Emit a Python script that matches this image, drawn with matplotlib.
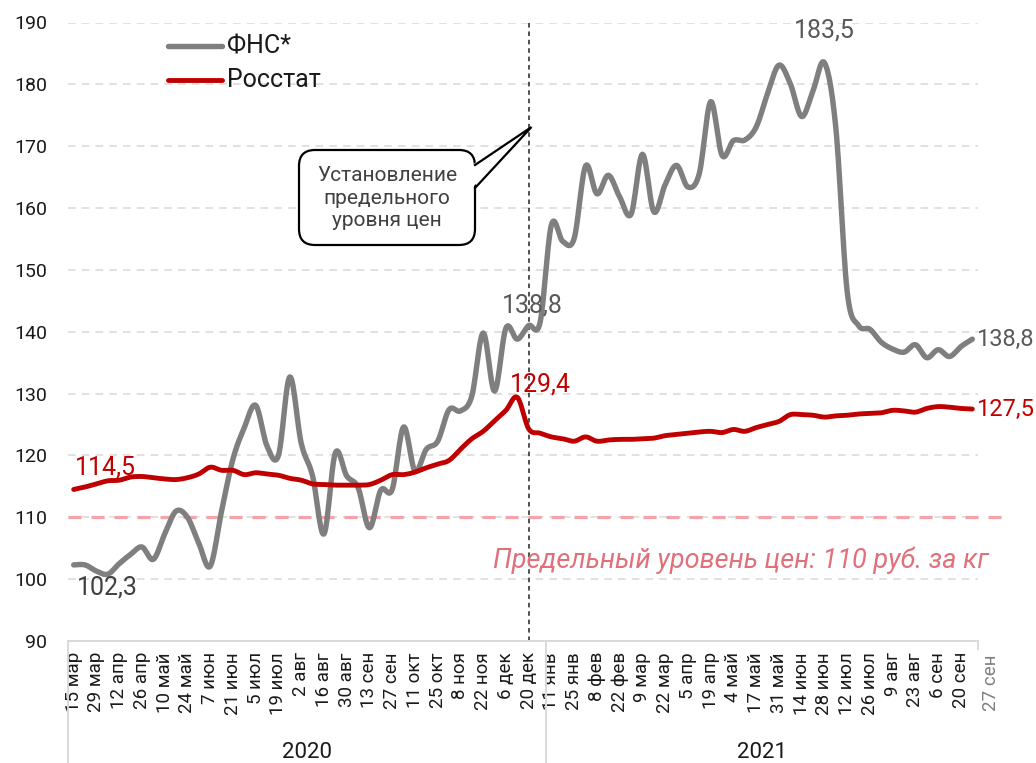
import matplotlib
matplotlib.use("Agg")
import matplotlib.pyplot as plt
import numpy as np
from matplotlib.patches import FancyBboxPatch, Polygon
from matplotlib.lines import Line2D

plt.rcParams['font.family'] = ['Roboto', 'DejaVu Sans']

# ---------------- data ----------------
fns = [102.3, 102.3, 101.3, 100.8, 102.5, 104.0, 105.2, 103.2, 107.3, 111.0,
       110.0, 105.8, 102.1, 111.0, 119.4, 124.5, 128.1, 121.5, 120.0, 132.7,
       122.0, 116.7, 107.3, 120.4, 116.7, 114.8, 108.3, 114.4, 114.5, 124.6,
       117.5, 121.0, 122.3, 127.4, 127.2, 129.6, 139.8, 130.4, 140.6, 138.8,
       141.0, 141.5, 157.3, 154.6, 155.1, 166.8, 162.3, 165.3, 161.8, 159.0,
       168.7, 159.4, 163.8, 166.9, 163.4, 165.6, 177.2, 168.5, 170.9, 171.0,
       173.1, 178.5, 183.1, 180.1, 174.8, 179.0, 183.5, 173.0, 146.5, 141.0,
       140.4, 138.3, 137.2, 136.7, 137.9, 135.8, 137.1, 136.0, 137.6, 138.8]
rosstat = [114.5, 114.9, 115.4, 115.9, 116.0, 116.5, 116.6, 116.4, 116.2, 116.1,
           116.4, 117.0, 118.1, 117.6, 117.6, 116.9, 117.2, 117.0, 116.8, 116.3,
           116.0, 115.4, 115.3, 115.2, 115.2, 115.2, 115.3, 116.0, 116.9, 116.9,
           117.3, 118.0, 118.6, 119.2, 121.0, 122.7, 123.9, 125.6, 127.3, 129.4,
           124.3, 123.6, 123.0, 122.7, 122.3, 123.0, 122.3, 122.5, 122.6, 122.6,
           122.7, 122.8, 123.2, 123.4, 123.6, 123.8, 123.9, 123.7, 124.2, 123.9,
           124.5, 125.0, 125.5, 126.6, 126.6, 126.5, 126.2, 126.4, 126.5, 126.7,
           126.8, 126.9, 127.3, 127.2, 127.0, 127.6, 127.9, 127.8, 127.6, 127.5]
labels_2020 = ['15 мар', '29 мар', '12 апр', '26 апр', '10 май', '24 май', '7 июн',
               '21 июн', '5 июл', '19 июл', '2 авг', '16 авг', '30 авг', '13 сен',
               '27 сен', '11 окт', '25 окт', '8 ноя', '22 ноя', '6 дек', '20 дек']
labels_2021 = ['11 янв', '25 янв', '8 фев', '22 фев', '9 мар', '22 мар', '5 апр',
               '19 апр', '4 май', '17 май', '31 май', '14 июн', '28 июн', '12 июл',
               '26 июл', '9 авг', '23 авг', '6 сен', '20 сен']
last_label = '27 сен'
years = ['2020', '2021']
n_2020 = 42            # weekly points in 2020 (15 мар .. 27 дек)
price_cap = 110
cap_week = 40          # 20 дек 2020
series_names = ['ФНС*', 'Росстат']

GREY = '#7F7F7F'
RED = '#C00000'
PINK = '#F4A3AB'
PINK_TXT = '#E0707A'
GRID = '#D9D9D9'
DARK = '#404040'

n = len(fns)
x = np.arange(n)


def smooth(xs, ys, k=14):
    xs = np.asarray(xs, float)
    ys = np.asarray(ys, float)
    P = np.column_stack([xs, ys])
    P = np.vstack([P[0], P, P[-1]])
    out = []
    t = np.linspace(0, 1, k, endpoint=False)[:, None]
    for i in range(1, len(P) - 2):
        p0, p1, p2, p3 = P[i - 1], P[i], P[i + 1], P[i + 2]
        seg = 0.5 * (2 * p1 + (-p0 + p2) * t + (2 * p0 - 5 * p1 + 4 * p2 - p3) * t ** 2
                     + (-p0 + 3 * p1 - 3 * p2 + p3) * t ** 3)
        out.append(seg)
    out.append(P[-2][None, :])
    out = np.vstack(out)
    return out[:, 0], out[:, 1]


W, H = 1036, 763
fig = plt.figure(figsize=(W / 100, H / 100), dpi=100)
L, R, T, B = 68, 978, 22.5, 641
ax = fig.add_axes([L / W, (H - B) / H, (R - L) / W, (B - T) / H])
ax.set_xlim(-0.5, n - 0.5)
ax.set_ylim(90, 190)

inch = fig.dpi_scale_trans


def P(px, py):
    return (px / 100, (H - py) / 100)


# grid
ax.set_yticks(np.arange(90, 191, 10))
for v in np.arange(100, 191, 10):
    ax.axhline(v, color=GRID, lw=1.1, dashes=(5, 4), zorder=1)

# price cap line
ax.plot([-0.5, 81.6], [price_cap, price_cap], color=PINK, lw=2.3, dashes=(4.1, 3.1),
        zorder=2, clip_on=False, solid_capstyle='butt', dash_capstyle='butt')

# vertical dashed line
ax.axvline(cap_week, color='#222222', lw=1.1, dashes=(3, 2.5), zorder=2)

# series
gx, gy = smooth(x, fns)
ax.plot(gx, gy, color=GREY, lw=3.9, zorder=4, solid_capstyle='round', solid_joinstyle='round')
rx, ry = smooth(x, rosstat)
ax.plot(rx, ry, color=RED, lw=3.5, zorder=5, solid_capstyle='round', solid_joinstyle='round')

# spines / axes
for s in ['top', 'right', 'left']:
    ax.spines[s].set_visible(False)
ax.spines['bottom'].set_color(GRID)
ax.spines['bottom'].set_linewidth(1.4)
ax.tick_params(axis='y', length=0, pad=15, labelsize=14, labelcolor='#1A1A1A')
ax.set_yticklabels([str(v) for v in range(90, 191, 10)])

tick_pos = list(range(0, 2 * len(labels_2020), 2)) + \
    list(range(n_2020, n_2020 + 2 * len(labels_2021), 2))
ax.set_xticks(tick_pos)
ax.set_xticklabels(labels_2020 + labels_2021, rotation=90, fontsize=13.5,
                   color='#1A1A1A', va='top', ha='center')
ax.tick_params(axis='x', length=0, pad=8)
ax.text(80.6, -0.022, last_label, transform=ax.get_xaxis_transform(), rotation=90,
        fontsize=13.5, color=GREY, ha='center', va='top')

# category box lines
bt = ax.get_xaxis_transform()
ybot = -(H - B) / (B - T)
for xv, yb in [(-0.5, ybot), (n_2020 - 0.5, ybot), (n - 0.5, -8 / (B - T))]:
    ax.plot([xv, xv], [0, yb], color=GRID, lw=1.4, transform=bt, clip_on=False)

fig.text(*P((L + 545.4) / 2, 753), years[0], transform=inch, ha='center', va='center',
         fontsize=16, color='#1A1A1A')
fig.text(*P((545.4 + R) / 2, 753), years[1], transform=inch, ha='center', va='center',
         fontsize=16, color='#1A1A1A')

# legend
for (yy, col, lw, name) in [(46, GREY, 3.9, series_names[0]), (80, RED, 3.5, series_names[1])]:
    fig.add_artist(Line2D([168 / 100, 222 / 100], [(H - yy) / 100] * 2, transform=inch,
                          color=col, lw=lw, solid_capstyle='round'))
    fig.text(*P(227, yy), name, transform=inch, ha='left', va='center',
             fontsize=18, color='#1A1A1A')

# data labels
def lab(i, series, text, dx, dy, color, ha='center', size=18):
    ax.annotate(text, xy=(i, series[i]), xytext=(dx, dy), textcoords='offset points',
                ha=ha, va='center', fontsize=size, color=color, zorder=6)

lab(0, rosstat, '114,5', 1, 16, RED, ha='left')
lab(0, fns, '102,3', 2.4, -16.6, DARK, ha='left')
lab(39, fns, '138,8', 11, 24.5, '#595959')
lab(39, rosstat, '129,4', 16.6, 9.5, RED)
lab(66, fns, '183,5', 0, 23, '#595959')
lab(n - 1, fns, '138,8', 2.8, 0, '#595959', ha='left', size=17)
lab(n - 1, rosstat, '127,5', 2.8, 0, RED, ha='left', size=17)

ax.text(58.6, 103.1, 'Предельный уровень цен: 110 руб. за кг', ha='center', va='center',
        fontsize=19.5, style='italic', color=PINK_TXT, zorder=6)

# callout
bx0, bx1, by0, by1 = 299, 475, 150, 245
box = FancyBboxPatch(P(bx0, by1), (bx1 - bx0) / 100, (by1 - by0) / 100,
                     boxstyle='round,pad=0,rounding_size=0.16', transform=inch,
                     facecolor='white', edgecolor='black', lw=1.6, zorder=7)
fig.add_artist(box)
tip = P(531.5, 127)
b1 = P(bx1, 165)
b2 = P(bx1, 188)
fig.add_artist(Polygon([P(bx1 - 3, 165), tip, P(bx1 - 3, 188)], closed=True,
                       transform=inch, facecolor='white', edgecolor='none', zorder=8))
fig.add_artist(Line2D([b1[0], tip[0], b2[0]], [b1[1], tip[1], b2[1]], transform=inch,
                      color='black', lw=1.6, zorder=9, solid_joinstyle='miter'))
fig.text(*P((bx0 + bx1) / 2, 198), 'Установление\nпредельного\nуровня цен',
         transform=inch, ha='center', va='center', fontsize=15, color=DARK,
         linespacing=1.25, zorder=10)

fig.savefig('out.png', dpi=100, facecolor='white')
